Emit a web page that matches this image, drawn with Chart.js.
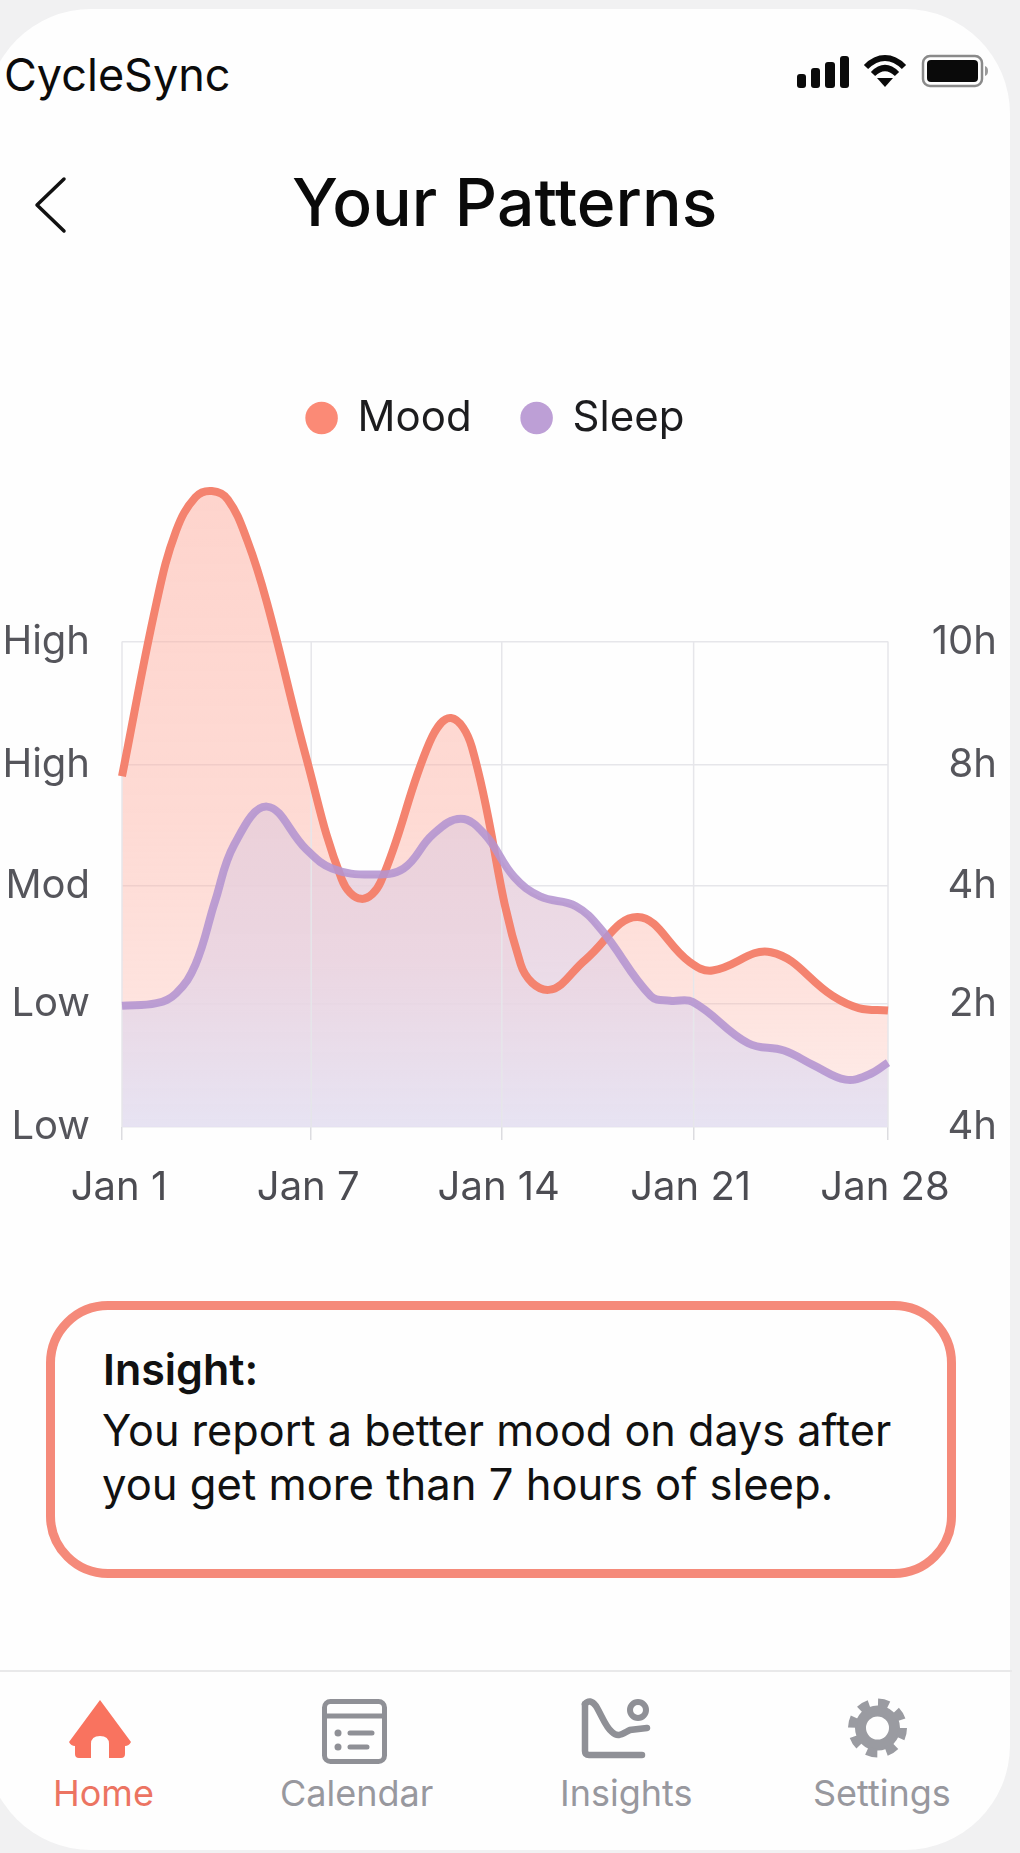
<!DOCTYPE html>
<html lang="en">
<head>
    <meta charset="UTF-8">
    <title>CycleSync - Your Patterns</title>
    <script src="https://cdn.jsdelivr.net/npm/chart.js"></script>
    <style>
        html, body { margin: 0; padding: 0; }
        body { width: 1020px; height: 1853px; background: #f1f1f2; overflow: hidden; position: relative; font-family: Inter, sans-serif; }
        .screen { position: absolute; left: -14px; top: 9px; width: 1024px; height: 1841px; background: #fefefe; border-radius: 105px; }
        .txt { position: absolute; white-space: nowrap; line-height: 1; }
        .brand { left: 4px; top: 52px; font-size: 45px; color: #0b0b0b; }
        .title { left: 292px; top: 169px; font-size: 66px; font-weight: 500; color: #0a0a0a; }
        .icon { position: absolute; left: 0; top: 0; }
        #chart { position: absolute; left: -6px; top: 347px; }
        .insight { position: absolute; left: 46px; top: 1301px; width: 910px; height: 277px; box-sizing: border-box; border: 9px solid #f58a7a; border-radius: 62px; }
        .i1 { left: 103px; top: 1348px; font-size: 43px; font-weight: 600; color: #111; }
        .i2 { left: 102px; top: 1409px; font-size: 43.2px; color: #111; }
        .i3 { left: 102px; top: 1463px; font-size: 43.6px; color: #111; }
        .navline { position: absolute; left: 0; top: 1670px; width: 1012px; height: 2px; background: #e9e9ea; }
        .nav { top: 1775px; font-size: 36px; color: #98989e; }
    </style>
</head>
<body>
    <div class="screen"></div>

    <div class="txt brand">CycleSync</div>
    <div class="txt title">Your Patterns</div>

    <svg class="icon" width="1020" height="1853" viewBox="0 0 1020 1853" fill="none">
        <!-- status bar -->
        <g fill="#0a0a0a">
            <rect x="797" y="74" width="9" height="14" rx="3"/>
            <rect x="811" y="68" width="9" height="20" rx="3"/>
            <rect x="825" y="62" width="10" height="26" rx="3"/>
            <rect x="840" y="56" width="9" height="32" rx="3"/>
        </g>
        <g stroke="#0a0a0a" stroke-width="6">
            <path d="M866 67 C878 55 892 55 904 67"/>
            <path d="M873 74 C881 66 889 66 897 74"/>
        </g>
        <path d="M877 78 L893 78 L885 87 Z" fill="#0a0a0a"/>
        <rect x="923" y="56" width="59" height="30" rx="7" stroke="#8a8a8a" stroke-width="2.5"/>
        <rect x="927" y="60" width="51" height="22" rx="4" fill="#0a0a0a"/>
        <path d="M985 66 C989 67 989 75 985 76 Z" fill="#9a9a9a"/>
        <!-- back chevron -->
        <path d="M64 179 L37 205 L64 231" stroke="#111" stroke-width="3.5" stroke-linecap="round" stroke-linejoin="round"/>
        <!-- home -->
        <path d="M100 1700 L131 1742 Q129 1746 125 1746 L125 1754 Q125 1758 121 1758 L109 1758 L109 1744 Q109 1736 100 1736 Q91 1736 91 1744 L91 1758 L79 1758 Q75 1758 75 1754 L75 1746 Q71 1746 69 1742 Z" fill="#f9735f"/>
        <!-- calendar -->
        <rect x="324.5" y="1701.5" width="60" height="60" rx="6" stroke="#8f9096" stroke-width="5"/>
        <path d="M325 1716 H384" stroke="#8f9096" stroke-width="5"/>
        <circle cx="338" cy="1733" r="3.5" fill="#8f9096"/>
        <circle cx="338" cy="1747" r="3.5" fill="#8f9096"/>
        <path d="M350 1733 H372 M350 1747 H367" stroke="#8f9096" stroke-width="5" stroke-linecap="round"/>
        <!-- insights -->
        <path d="M585 1704 V1751 Q585 1755 589 1755 H642" stroke="#8f9096" stroke-width="6.5" stroke-linecap="round"/>
        <path d="M585 1704 Q590 1698 596 1706 C602 1716 606 1728 612 1732 C618 1738 622 1734 630 1730 L647 1728" stroke="#8f9096" stroke-width="6.5" stroke-linecap="round"/>
        <circle cx="638" cy="1710" r="8" stroke="#8f9096" stroke-width="6"/>
        <!-- settings -->
        <circle cx="877.5" cy="1728" r="17" stroke="#9a9ba1" stroke-width="11"/>
        <circle cx="877.5" cy="1728" r="25" stroke="#9a9ba1" stroke-width="9" stroke-dasharray="10.6 9"/>
    </svg>

    <canvas id="chart" width="1026" height="870"></canvas>

    <div class="insight"></div>
    <div class="txt i1">Insight:</div>
    <div class="txt i2">You report a better mood on days after</div>
    <div class="txt i3">you get more than 7 hours of sleep.</div>

    <div class="navline"></div>
    <div class="txt nav" style="left:53px;color:#ec7462">Home</div>
    <div class="txt nav" style="left:280px">Calendar</div>
    <div class="txt nav" style="left:560px">Insights</div>
    <div class="txt nav" style="left:813px">Settings</div>

    <script>
        // axis labels and where they sit (axis units)
        const dateLabels = ["Jan 1", "Jan 7", "Jan 14", "Jan 21", "Jan 28"];
        const datePos = [0, 0.988, 1.983, 2.985, 4];
        const moodLabels = ["Low", "Low", "Mod", "High", "High"];
        const sleepLabels = ["4h", "2h", "4h", "8h", "10h"];
        const levelPos = [0, 1.016, 1.984, 2.984, 4];

        // values
        const moodPos = [0, 0.18, 0.282, 0.384, 0.469, 0.553, 0.655, 0.757, 0.961, 1.148, 1.25, 1.351, 1.606, 1.718, 1.827, 2.082, 2.228, 2.421, 2.693, 2.964, 3.083, 3.389, 3.711, 3.847, 4];
        const moodVals = [2.89, 4.32, 4.91, 5.19, 5.24, 5.17, 4.83, 4.32, 3.05, 2.04, 1.88, 2.02, 3.17, 3.37, 3.13, 1.34, 1.13, 1.38, 1.73, 1.36, 1.29, 1.44, 1.08, 0.98, 0.96];
        const sleepPos = [0, 0.18, 0.282, 0.384, 0.486, 0.587, 0.757, 0.961, 1.097, 1.30, 1.47, 1.623, 1.769, 1.895, 2.048, 2.183, 2.37, 2.506, 2.761, 2.862, 2.981, 3.27, 3.457, 3.61, 3.779, 3.898, 4];
        const sleepVals = [1.00, 1.02, 1.10, 1.34, 1.86, 2.33, 2.64, 2.29, 2.13, 2.08, 2.13, 2.41, 2.54, 2.41, 2.06, 1.90, 1.82, 1.62, 1.08, 1.04, 1.03, 0.69, 0.63, 0.51, 0.39, 0.43, 0.53];

        const toPoints = (xs, ys) => xs.map((x, i) => ({ x: x, y: ys[i] }));

        function fillGradient(context, stops) {
            const area = context.chart.chartArea;
            if (!area) return "transparent";
            const g = context.chart.ctx.createLinearGradient(0, area.top, 0, area.bottom);
            stops.forEach(s => g.addColorStop(s[0], s[1]));
            return g;
        }

        // vertical grid lines stop at the top level, not at the top of the plot
        const dateGrid = {
            id: "dateGrid",
            beforeDatasetsDraw(chart) {
                const ctx = chart.ctx, x = chart.scales.x, y = chart.scales.y;
                ctx.save();
                ctx.strokeStyle = "#e6e6ea";
                ctx.lineWidth = 1.5;
                datePos.forEach(p => {
                    ctx.beginPath();
                    ctx.moveTo(x.getPixelForValue(p), y.getPixelForValue(4));
                    ctx.lineTo(x.getPixelForValue(p), y.getPixelForValue(0));
                    ctx.stroke();
                });
                ctx.restore();
            }
        };

        const yRange = { min: 0, max: 5.587 };

        function placeTicks(positions) {
            return scale => { scale.ticks = positions.map(v => ({ value: v })); };
        }

        new Chart(document.getElementById("chart"), {
            type: "line",
            data: {
                datasets: [
                    {
                        label: "Mood",
                        data: toPoints(moodPos, moodVals),
                        yAxisID: "y",
                        order: 1,
                        borderColor: "#f4836f",
                        borderWidth: 8,
                        pointRadius: 0,
                        tension: 0.4,
                        clip: false,
                        fill: "origin",
                        backgroundColor: c => fillGradient(c, [[0, "rgba(255,170,155,0.50)"], [0.55, "rgba(255,170,155,0.42)"], [0.8, "rgba(255,170,155,0.32)"], [1, "rgba(255,170,155,0.2)"]])
                    },
                    {
                        label: "Sleep",
                        data: toPoints(sleepPos, sleepVals),
                        yAxisID: "y1",
                        order: 0,
                        borderColor: "rgba(180,148,208,0.88)",
                        borderWidth: 8,
                        pointRadius: 0,
                        tension: 0.4,
                        clip: false,
                        fill: "origin",
                        backgroundColor: c => fillGradient(c, [[0.45, "rgba(232,204,214,0.85)"], [0.75, "rgba(232,212,226,0.85)"], [1, "rgba(229,226,243,0.92)"]])
                    }
                ]
            },
            options: {
                responsive: false,
                animation: false,
                layout: { padding: { right: 23 } },
                plugins: {
                    tooltip: { enabled: false },
                    filler: { drawTime: "beforeDatasetsDraw" },
                    legend: {
                        position: "top",
                        labels: {
                            usePointStyle: true,
                            pointStyle: "circle",
                            boxWidth: 30,
                            boxHeight: 23,
                            padding: 50,
                            color: "#1c1c1e",
                            font: { family: "Inter", size: 42 },
                            generateLabels(chart) {
                                return chart.data.datasets.map((d, i) => ({
                                    text: d.label,
                                    fillStyle: i === 0 ? "#fb8a76" : "#bd9fd6",
                                    strokeStyle: "transparent",
                                    lineWidth: 0,
                                    pointStyle: "circle",
                                    datasetIndex: i,
                                    fontColor: "#1c1c1e"
                                }));
                            }
                        }
                    }
                },
                scales: {
                    x: {
                        type: "linear",
                        min: 0,
                        max: 4,
                        afterBuildTicks: placeTicks(datePos),
                        afterFit: s => { s.height = 90; },
                        border: { display: false },
                        grid: { drawOnChartArea: false, color: "#dcdce0", tickLength: 13, lineWidth: 1.5 },
                        ticks: { autoSkip: false, maxRotation: 0, padding: 24, labelOffset: -3, color: "#4c4c52", font: { family: "Inter", size: 40 }, callback: (v, i) => dateLabels[i] }
                    },
                    y: {
                        position: "left",
                        min: yRange.min,
                        max: yRange.max,
                        afterBuildTicks: placeTicks(levelPos),
                        afterFit: s => { s.width = 128; },
                        border: { display: false },
                        grid: { drawTicks: false, color: "#e6e6ea", lineWidth: 1.5 },
                        ticks: { autoSkip: false, padding: 32, color: "#55555b", font: { family: "Inter", size: 40 }, callback: (v, i) => moodLabels[i] }
                    },
                    y1: {
                        position: "right",
                        min: yRange.min,
                        max: yRange.max,
                        afterBuildTicks: placeTicks(levelPos),
                        afterFit: s => { s.width = 109; },
                        border: { display: false },
                        grid: { display: false, drawTicks: false },
                        ticks: { autoSkip: false, crossAlign: "far", color: "#55555b", font: { family: "Inter", size: 40 }, callback: (v, i) => sleepLabels[i] }
                    }
                }
            },
            plugins: [dateGrid]
        });
    </script>
</body>
</html>
